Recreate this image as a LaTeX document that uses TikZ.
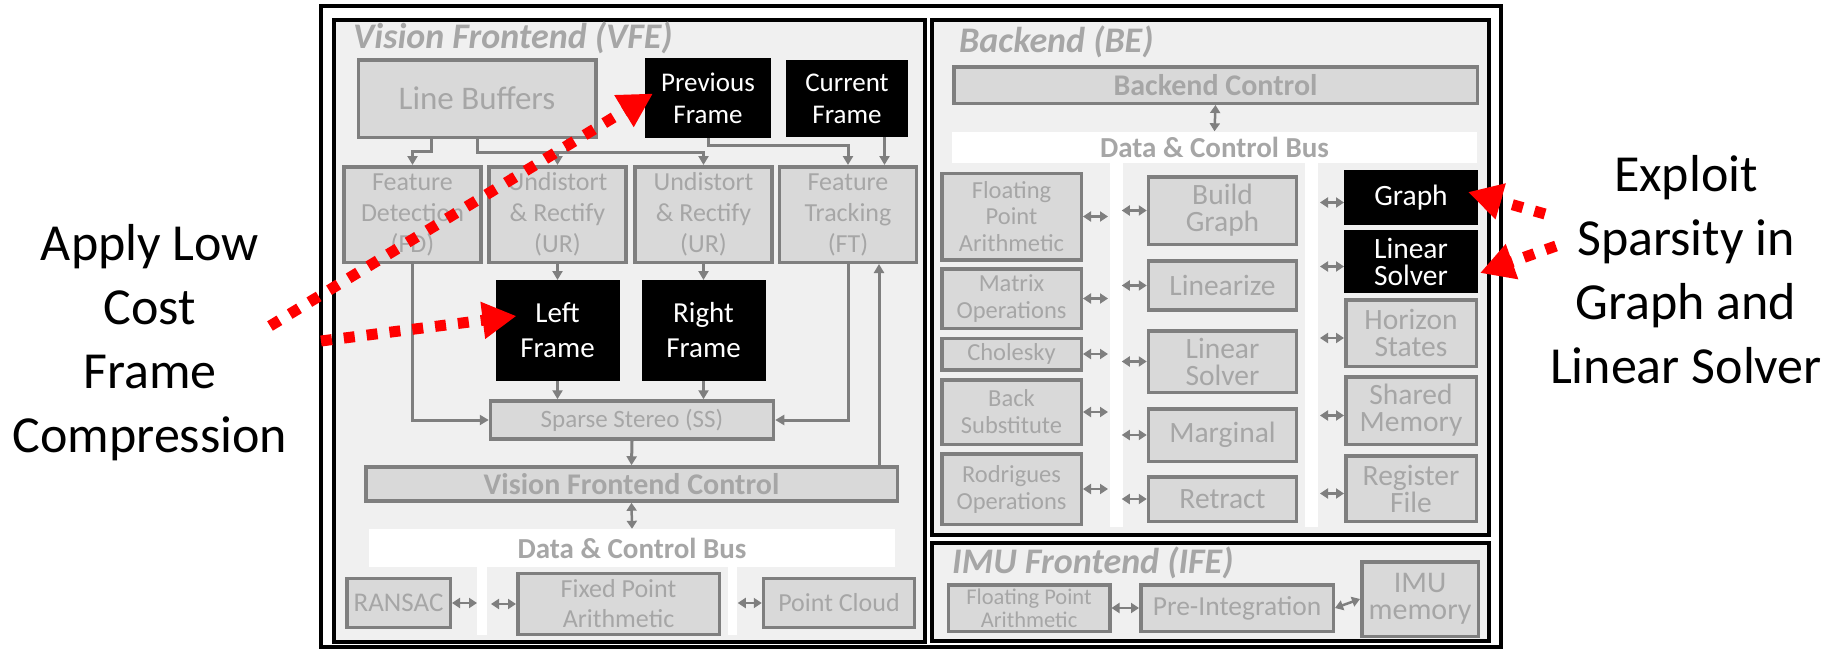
\documentclass[tikz,border=0pt]{standalone}
\usepackage{fontspec}
\setmainfont{Carlito}
\usetikzlibrary{calc,arrows.meta,positioning}
\definecolor{panelgray}{RGB}{240,240,240}
\definecolor{boxgray}{RGB}{217,217,217}
\definecolor{edgegray}{RGB}{127,127,127}
\definecolor{textgray}{RGB}{166,166,166}

\begin{document}
\begin{tikzpicture}[x=1pt,y=-1pt,
    panel/.style={draw=black, line width=4pt, fill=panelgray},
    fs/.style 2 args={font=\fontsize{#1}{#2}\selectfont},
    blk/.style={draw=edgegray, line width=3.5pt, fill=boxgray, text=textgray,
      align=center, inner sep=0pt, fs={26}{31}},
    dark/.style={blk, draw=black, fill=black, text=white},
    wh/.style 2 args={minimum width=#1pt, minimum height=#2pt},
    lcol/.style={blk, fs={24.5}{27}},
    mcol/.style={blk, fs={29.5}{27}},
    dcol/.style={dark, fs={29.5}{27}},
    bus/.style={fill=white, text=textgray, inner sep=0pt,
      font=\bfseries\fontsize{29}{32}\selectfont},
    ctl/.style={blk, font=\bfseries\fontsize{30}{32}\selectfont},
    conn/.style={draw=edgegray, line width=3pt, -{Triangle[length=9pt,width=10pt]}},
    dbl/.style={draw=edgegray, line width=2.5pt,
      {Triangle[length=8pt,width=10pt]}-{Triangle[length=8pt,width=10pt]}},
    hint/.style={draw=red, line width=11pt, dash pattern=on 11pt off 12pt,
      -{Triangle[length=34pt,width=35pt]}},
    title/.style={anchor=base west, text=textgray, inner sep=0pt,
      font=\bfseries\itshape\fontsize{36}{40}\selectfont},
    note/.style={align=center, inner sep=0pt, fs={52}{64}}]
    \useasboundingbox (0,0) rectangle (1843,648);

    % frames
    \draw[black, line width=4pt] (321,6) rectangle (1501,647);
    \draw[panel] (334,20) rectangle (925,642);
    \draw[panel] (932,20) rectangle (1489,535);
    \draw[panel] (932,543) rectangle (1489,641);
    \fill[white] (477,566) rectangle (487,635);
    \fill[white] (728,566) rectangle (737,635);
    \fill[white] (1110,160) rectangle (1123,527);
    \fill[white] (1305,160) rectangle (1318,527);

    \node[title] (vfetitle) at (353,48) {Vision Frontend (VFE)};
    \node[title] (betitle) at (959,52) {Backend (BE)};
    \node[title] (ifetitle) at (952,573) {IMU Frontend (IFE)};

    % vision frontend
    \node[blk, wh={237.5}{77.5}, fs={33}{36}] (lb) at (477,98.5) {Line Buffers};
    \node[dark, wh={122.5}{76}, fs={27}{32}] (prevf) at (708,98) {Previous\\Frame};
    \node[dark, wh={118.5}{74}, fs={27}{32}] (curf) at (847,98.5) {Current\\Frame};
    \node[blk, wh={137}{95.5}] (fd) at (412.5,214.5) {Feature\\Detection\\(FD)};
    \node[blk, wh={137}{95.5}] (urleft) at (557.5,214.5) {Undistort\\\&~Rectify\\(UR)};
    \node[blk, wh={137}{95.5}] (urright) at (703.5,214.5) {Undistort\\\&~Rectify\\(UR)};
    \node[blk, wh={137}{95.5}] (ft) at (848,214.5) {Feature\\Tracking\\(FT)};
    \node[dark, wh={120.5}{97.5}, fs={29}{35}] (leftf) at (557.5,330.5) {Left\\Frame};
    \node[dark, wh={120.5}{97.5}, fs={29}{35}] (rightf) at (703.5,330.5) {Right\\Frame};
    \node[blk, wh={283}{38}, fs={25}{30}] (ss) at (632,420) {Sparse Stereo (SS)};
    \node[ctl, wh={531.5}{34}] (vfectl) at (631.5,484) {Vision Frontend Control};
    \node[bus, wh={526}{38}] (vfebus) at (632,548) {Data \& Control Bus};
    \node[blk, wh={103.5}{49}, fs={27}{30}] (ransac) at (398.5,603) {RANSAC};
    \node[blk, wh={201.5}{61}, fs={26}{30}] (fixpt) at (618.5,604) {Fixed Point\\Arithmetic};
    \node[blk, wh={151}{49}] (ptcloud) at (839,603) {Point Cloud};

    \draw[conn] ([xshift=-45.5pt]lb.south) -- ++(0,12) -| (fd.north);
    \draw[conn] (lb.south) -- ++(0,13) -| (urright.north);
    \draw[conn] ([xshift=90pt]lb.south) -- ++(0,13) -| (urleft.north);
    \draw[conn] (prevf.south) -- ++(0,8) -| (ft.north);
    \coordinate (curdrop) at ([xshift=37.5pt]curf.south);
    \draw[conn] (curdrop) -- (curdrop |- ft.north);
    \draw[conn] (urleft.south) -- (leftf.north);
    \draw[conn] (urright.south) -- (rightf.north);
    \draw[conn] (leftf.south) -- (leftf.south |- ss.north);
    \draw[conn] (rightf.south) -- (rightf.south |- ss.north);
    \draw[conn] (fd.south) |- (ss.west);
    \draw[conn] (ft.south) |- (ss.east);
    \draw[conn] (ss.south) -- (vfectl.north);
    \coordinate (ftup) at ([xshift=31pt]ft.south);
    \draw[conn] (ftup |- vfectl.north) -- (ftup);
    \draw[dbl] (vfectl.south) -- (vfebus.north);
    \draw[dbl] (ransac.east) -- ++(25,0);
    \draw[dbl] (fixpt.west) -- ++(-25,0);
    \draw[dbl] (ptcloud.west) -- ++(-24,0);

    % backend
    \node[ctl, wh={523.5}{36.5}] (bectl) at (1215.5,85) {Backend Control};
    \node[bus, wh={525}{31}] (bebus) at (1214.5,147) {Data \& Control Bus};
    \node[lcol, wh={139.5}{86.5}, fs={24.5}{26.5}] (flpt) at (1011.5,216.5) {Floating\\Point\\Arithmetic};
    \node[lcol, wh={139.5}{59.5}] (matops) at (1011.5,298.5) {Matrix\\Operations};
    \node[lcol, wh={139.5}{31.5}] (chol) at (1011.5,354) {Cholesky};
    \node[lcol, wh={139.5}{64.5}] (backsub) at (1011.5,412) {Back\\Substitute};
    \node[lcol, wh={139.5}{70.5}] (rodr) at (1011.5,489) {Rodrigues\\Operations};
    \node[mcol, wh={148}{67.5}] (bgraph) at (1222.5,210.5) {Build\\Graph};
    \node[mcol, wh={148}{49}] (linz) at (1222.5,285.5) {Linearize};
    \node[mcol, wh={148}{61.5}] (lsolve) at (1222.5,361.5) {Linear\\Solver};
    \node[mcol, wh={148}{52.5}] (marg) at (1222.5,435) {Marginal};
    \node[mcol, wh={148}{44.5}] (retr) at (1222.5,499) {Retract};
    \node[dcol, wh={130.5}{51.5}] (graph) at (1411,197.5) {Graph};
    \node[dcol, wh={130.5}{59.5}] (linsolve) at (1411,261.5) {Linear\\Solver};
    \node[mcol, wh={130.5}{66.5}] (horiz) at (1411,333) {Horizon\\States};
    \node[mcol, wh={130.5}{67.5}] (shmem) at (1411,410.5) {Shared\\Memory};
    \node[mcol, wh={130.5}{65.5}] (regfile) at (1411,488.5) {Register\\File};

    \draw[dbl] (bectl.south) -- (bebus.north);
    \foreach \b in {flpt,matops,chol,backsub,rodr}
      \draw[dbl] (\b.east) -- ++(25,0);
    \foreach \b in {bgraph,linz,lsolve,marg,retr}
      \draw[dbl] (\b.west) -- ++(-25,0);
    \foreach \b in {graph,linsolve,horiz,shmem,regfile}
      \draw[dbl] ([yshift=-5pt]\b.west) -- ++(-24,0);

    % imu frontend
    \node[blk, wh={161.5}{46.5}, fs={22.5}{23}] (iflpt) at (1029,608) {Floating Point\\Arithmetic};
    \node[blk, wh={192.5}{46.5}, fs={27.5}{30}] (preint) at (1237,608) {Pre-Integration};
    \node[blk, wh={116.5}{74.5}, fs={30}{27}] (imumem) at (1420,599) {IMU\\memory};
    \draw[dbl] (iflpt.east) -- (preint.west);
    \draw[dbl] (preint.east) -- (imumem.west);

    % annotations
    \node[note] (lowcost) at (150,343) {Apply Low\\Cost\\Frame\\Compression};
    \node[note] (sparsity) at (1686,270) {Exploit\\Sparsity in\\Graph and\\Linear Solver};
    \coordinate (lc1) at (270,326);
    \coordinate (lc2) at (321,341);
    \coordinate (sp1) at (1545,214);
    \coordinate (sp2) at (1556,246);
    \draw[hint] (lc1) -- ($(prevf.west)+(8,-4.5)$);
    \draw[hint] (lc2) -- ($(leftf.west)+(21,-14.5)$);
    \draw[hint] (sp1) -- ($(graph.east)+(-10,-5.5)$);
    \draw[hint] (sp2) -- ($(linsolve.east)+(2,11.5)$);
\end{tikzpicture}
\end{document}
